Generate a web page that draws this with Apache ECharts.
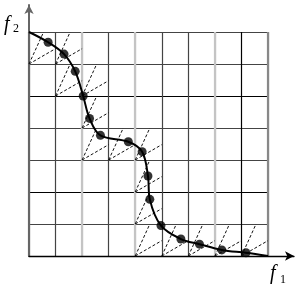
<!DOCTYPE html>
<html>
<head>
<meta charset="utf-8">
<script src="https://cdn.jsdelivr.net/npm/echarts@6/dist/echarts.min.js"></script>
<style>html,body{margin:0;padding:0;background:#fff;}#c{width:300px;height:290px;}</style>
</head>
<body>
<div id="c"></div>
<script>
// Pareto front points (x in f1 grid units, y in f2 grid units)
const dotX = [0.72, 1.32, 1.74, 2.04, 2.28, 2.69, 3.74, 4.26, 4.48, 4.55, 4.97, 5.72, 6.42, 7.26, 8.17];
const dotY = [6.68, 6.31, 5.77, 5.00, 4.30, 3.77, 3.57, 3.26, 2.50, 1.77, 0.95, 0.53, 0.37, 0.19, 0.10];
const curveStart = [0, 7];
const curveEnd = [9, 0];
// hatched cells: lower-left corner (column, row)
const hatchCol = [0, 1, 1, 2, 2, 2, 3, 4, 4, 4, 4, 5, 6, 7, 8];
const hatchRow = [6, 6, 5, 5, 4, 3, 3, 3, 2, 1, 0, 0, 0, 0, 0];
const xMax = 9, yMax = 7;

const dots = dotX.map((x, i) => [x, dotY[i]]);
const curve = [curveStart].concat(dots, [curveEnd]);
const cells = hatchCol.map((c, i) => [c, hatchRow[i]]);

const chart = echarts.init(document.getElementById('c'), null, {renderer: 'canvas'});
const T = 'rgba(0,0,0,0)';
const dash = {stroke: '#111', lineWidth: 1, lineDash: [3, 2]};
chart.setOption({
  animation: false,
  backgroundColor: '#fff',
  grid: [
    {left: 29, right: 32, top: 32, bottom: 34},
    {left: 29, right: 6, top: 5, bottom: 34}
  ],
  xAxis: [
    {gridIndex: 0, type: 'value', min: 0, max: xMax, interval: 1,
     axisLine: {show: false}, axisTick: {show: false}, axisLabel: {show: false},
     splitLine: {show: true, lineStyle: {width: 1.2, color: ['#777','#444','#bbb','#444','#bbb','#444','#444','#bbb','#000','#888']}}},
    {gridIndex: 0, type: 'value', min: 0, max: xMax, interval: 1,
     axisLine: {show: false}, axisTick: {show: false}, axisLabel: {show: false},
     splitLine: {show: true, lineStyle: {width: 2.2, color: ['#888',T,'#c4c4c4',T,'#c4c4c4',T,T,'#c4c4c4',T,'#888']}}},
    {gridIndex: 1, type: 'value', min: 0, max: 1,
     axisLine: {show: true, symbol: ['none', 'arrow'], symbolSize: [7, 9], lineStyle: {color: '#000', width: 1.3}},
     axisTick: {show: false}, axisLabel: {show: false}, splitLine: {show: false}}
  ],
  yAxis: [
    {gridIndex: 0, type: 'value', min: 0, max: yMax, interval: 1,
     axisLine: {show: false}, axisTick: {show: false}, axisLabel: {show: false},
     splitLine: {show: true, lineStyle: {width: 1.2, color: ['#000','#444','#000','#444','#444','#000','#444','#444']}}},
    {gridIndex: 1, type: 'value', min: 0, max: 1,
     axisLine: {show: true, symbol: ['none', 'arrow'], symbolSize: [7, 9], lineStyle: {color: '#666', width: 2}},
     axisTick: {show: false}, axisLabel: {show: false}, splitLine: {show: false}}
  ],
  series: [
    {type: 'custom', xAxisIndex: 0, yAxisIndex: 0, z: 3, data: cells, silent: true,
     renderItem: function (params, api) {
       const p = api.coord([api.value(0), api.value(1)]);
       const q = api.coord([api.value(0) + 1, api.value(1) + 1]);
       const w = q[0] - p[0], h = p[1] - q[1];
       return {type: 'group', children: [
         {type: 'line', shape: {x1: p[0], y1: p[1], x2: p[0] + 0.55 * w, y2: p[1] - h}, style: dash},
         {type: 'line', shape: {x1: p[0], y1: p[1], x2: p[0] + w, y2: p[1] - 0.48 * h}, style: dash}
       ]};
     }},
    {type: 'line', xAxisIndex: 0, yAxisIndex: 0, z: 5, data: curve, smooth: 0.35,
     showSymbol: false, symbol: 'none', lineStyle: {color: '#000', width: 2}},
    {type: 'scatter', xAxisIndex: 0, yAxisIndex: 0, z: 6, data: dots,
     symbol: 'circle', symbolSize: 9, itemStyle: {color: '#000'}}
  ],
  graphic: [
    {type: 'text', left: 4, top: 15, style: {text: 'f', font: 'italic 20px "Liberation Serif"', fill: '#000'}},
    {type: 'text', left: 13, top: 23, style: {text: '2', font: '12px "Liberation Serif"', fill: '#000'}},
    {type: 'text', left: 270, top: 264, style: {text: 'f', font: 'italic 20px "Liberation Serif"', fill: '#000'}},
    {type: 'text', left: 280, top: 274, style: {text: '1', font: '12px "Liberation Serif"', fill: '#000'}}
  ]
});
</script>
</body>
</html>
